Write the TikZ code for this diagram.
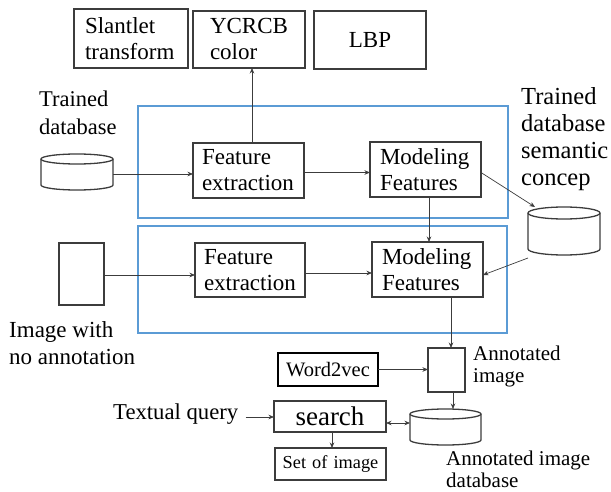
\documentclass[tikz,border=0pt]{standalone}
\usepackage{fontspec}
\setmainfont{Liberation Serif}
\newfontfamily\timesface{Liberation Serif}
\usetikzlibrary{arrows.meta,calc}

\definecolor{frameblue}{RGB}{91,155,213}
\definecolor{inkgrey}{RGB}{60,60,60}

\newcommand\fsz[2]{\timesface\fontsize{#1}{#2}\selectfont}

\tikzset{
  box/.style={draw=inkgrey, line width=1.3pt, fill=white, inner ysep=0pt,
              align=left, outer sep=0pt},
  boxtxt/.style={font=\fsz{23}{26}},
  stage/.style={draw=frameblue, line width=1.8pt},
  arr/.style={draw=inkgrey, line width=0.7pt, -{Stealth[length=5.5pt,width=4.5pt]}},
  dblarr/.style={draw=inkgrey, line width=0.7pt,
                 {Stealth[length=5.5pt,width=4.5pt]}-{Stealth[length=5.5pt,width=4.5pt]}},
  cylline/.style={draw=inkgrey, line width=1.3pt},
  lbl/.style={align=left, inner sep=0pt, anchor=west},
}

% database drum: name, centre, width, height, half height of the end ellipse
\newcommand\dbdrum[5]{%
  \node[minimum width=#3pt, minimum height=#4pt, inner sep=0pt, outer sep=0pt] (#1) at (#2) {};
  \draw[cylline, fill=white]
    ([yshift=-#5pt]#1.north west) -- ([yshift=#5pt]#1.south west)
    arc[start angle=180, end angle=360, x radius=#3pt/2, y radius=#5pt]
    -- ([yshift=-#5pt]#1.north east)
    arc[start angle=0, end angle=180, x radius=#3pt/2, y radius=#5pt] -- cycle;
  \draw[cylline]
    ([yshift=-#5pt]#1.north west)
    arc[start angle=180, end angle=360, x radius=#3pt/2, y radius=#5pt];
}

\begin{document}
\begin{tikzpicture}[x=1pt, y=1pt]
\useasboundingbox (0,0) rectangle (611,-492);

% processing stages
\draw[stage] (138,-106) rectangle (508,-218);
\draw[stage] (138,-226) rectangle (507,-333);

% feature descriptors
\node[box, boxtxt, text width=92pt, inner xsep=11pt, minimum height=59pt] (slant) at (131,-38.5) {Slantlet\\transform};
\node[box, boxtxt, text width=78pt, inner xsep=17pt, minimum height=57pt] (ycrcb) at (249,-39.5) {YCRCB\\color};
\node[box, boxtxt, text width=112pt, inner xsep=0pt, align=center, minimum height=58pt] (lbp) at (370,-40) {LBP};

% training stage
\node[box, boxtxt, text width=93pt, inner xsep=9pt, minimum height=55pt] (fe1) at (248.5,-170.5) {Feature\\extraction};
\node[box, boxtxt, text width=91pt, inner xsep=10pt, minimum height=55pt] (mf1) at (425.5,-169.5) {Modeling\\Features};

% annotation stage
\node[box, boxtxt, text width=92pt, inner xsep=9pt, minimum height=54pt] (fe2) at (250,-270) {Feature\\extraction};
\node[box, boxtxt, text width=91pt, inner xsep=10pt, minimum height=55pt] (mf2) at (427.5,-269.5) {Modeling\\Features};

% images
\node[box, minimum width=45pt, minimum height=62pt, inner sep=0pt] (img) at (81.5,-274) {};
\node[box, minimum width=37pt, minimum height=44pt, inner sep=0pt] (annimg) at (446.5,-370) {};

% retrieval part
\node[box, draw=black, line width=2pt, align=center, text width=100pt, inner xsep=0pt,
      minimum height=33pt, font=\fsz{20.5}{24}] (w2v) at (328,-369.5) {Word2vec};
\node[box, align=center, text width=112pt, inner xsep=0pt, minimum height=31pt,
      font=\fsz{27}{30}] (search) at (330,-416.5) {search};
\node[box, align=center, text width=111pt, inner xsep=0pt, minimum height=32pt,
      font=\fsz{18.3}{22}] (setimg) at (330.5,-464) {Set of image};

% databases
\dbdrum{cyl1}{77,-172}{72}{36}{5}
\dbdrum{cyl2}{564,-231}{72}{48}{6}
\dbdrum{cyl3}{445.5,-427}{71}{36}{5}

% free labels
\node[lbl, font=\fsz{22.5}{28}] (lbltd) at (39,-113) {Trained\\database};
\node[lbl, font=\fsz{24.5}{27}] (lblsem) at (521,-139) {Trained\\database\\semantic\\concep};
\node[lbl, font=\fsz{23}{27}] (lblimg) at (9,-343) {Image with\\no annotation};
\node[lbl, font=\fsz{21}{22}] (lblann) at (473,-366) {Annotated\\image};
\node[lbl, font=\fsz{21}{22}] (lbldb) at (446,-469) {Annotated image\\database};
\node[lbl, font=\fsz{22.7}{26}] (query) at (113,-414) {Textual query};
\coordinate (qstart) at ([xshift=7pt,yshift=-3pt]query.east);

% connectors
\draw[arr] ([yshift=-2pt]cyl1.east) -- ([yshift=-2pt]cyl1.east -| fe1.west);
\draw[arr] ([xshift=3.5pt]fe1.north) -- ([xshift=3.5pt]fe1.north |- ycrcb.south);
\draw[arr] ([yshift=-2pt]fe1.east) -- ([yshift=-2pt]fe1.east -| mf1.west);
\draw[arr] ([yshift=-3pt]mf1.east) -- ([xshift=-29pt]cyl2.north);
\draw[arr] ([xshift=3.5pt]mf1.south) -- ([xshift=3.5pt]mf1.south |- mf2.north);
\draw[arr] ([yshift=-1pt]img.east) -- ([yshift=-1pt]img.east -| fe2.west);
\draw[arr] ([yshift=-3pt]fe2.east) -- ([yshift=-3pt]fe2.east -| mf2.west);
\draw[arr] ([yshift=-3pt]cyl2.south west) -- ([yshift=-5.5pt]mf2.east);
\draw[arr] ([xshift=4.5pt]annimg.north |- mf2.south) -- ([xshift=4.5pt]annimg.north);
\draw[arr] (w2v.east) -- (w2v.east -| annimg.west);
\draw[arr] ([xshift=6.5pt]annimg.south) -- ([xshift=6.5pt]annimg.south |- cyl3.north);
\draw[dblarr] ([yshift=-6.5pt]search.east) -- ([yshift=-6.5pt]search.east -| cyl3.west);
\draw[arr] (qstart) -- (qstart -| search.west);
\draw[arr] ([xshift=2pt]search.south) -- ([xshift=2pt]search.south |- setimg.north);
\end{tikzpicture}
\end{document}
